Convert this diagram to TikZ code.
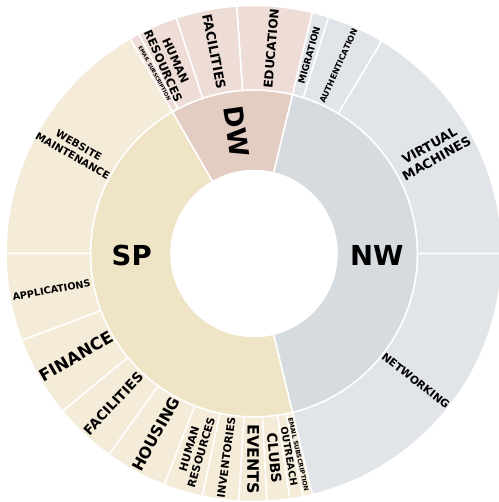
\documentclass[tikz,border=0pt]{standalone}
\usepackage{fontspec}
\setmainfont{DejaVu Sans}
\definecolor{dwinner}{RGB}{227,204,194}
\definecolor{dwouter}{RGB}{238,221,215}
\definecolor{nwinner}{RGB}{214,219,224}
\definecolor{nwouter}{RGB}{225,228,232}
\definecolor{spinner}{RGB}{240,228,199}
\definecolor{spouter}{RGB}{245,235,217}
\tikzset{
  slice/.style={draw=white, line width=1.5pt},
  lbl/.style={inner sep=0pt, align=center, text=black},
}
% ring radii: hole 83pt, middle 163.5pt, outer 248pt
\newcommand{\innerpart}[3]{\filldraw[slice, fill=#1] (#2:83pt) arc[start angle=#2, end angle=#3, radius=83pt] -- (#3:163.5pt) arc[start angle=#3, end angle=#2, radius=163.5pt] -- cycle;}
\newcommand{\outerpart}[3]{\filldraw[slice, fill=#1] (#2:163.5pt) arc[start angle=#2, end angle=#3, radius=163.5pt] -- (#3:248pt) arc[start angle=#3, end angle=#2, radius=248pt] -- cycle;}

\begin{document}
\begin{tikzpicture}[font=\bfseries]
  \fill[white] (-254pt,-248.5pt) rectangle (244pt,253.5pt);
  \useasboundingbox (-254pt,-248.5pt) rectangle (244pt,253.5pt);

  % inner ring
  \innerpart{nwinner}{-76.4}{76.4}
  \innerpart{dwinner}{76.4}{120}
  \innerpart{spinner}{120}{283.6}

  % outer ring, NW
  \outerpart{nwouter}{-76.4}{0}
  \outerpart{nwouter}{0}{59}
  \outerpart{nwouter}{59}{72.5}
  \outerpart{nwouter}{72.5}{76.4}
  % outer ring, DW
  \outerpart{dwouter}{76.4}{94}
  \outerpart{dwouter}{94}{108.3}
  \outerpart{dwouter}{108.3}{117.7}
  \outerpart{dwouter}{117.7}{120}
  % outer ring, SP
  \outerpart{spouter}{120}{180}
  \outerpart{spouter}{180}{200.5}
  \outerpart{spouter}{200.5}{219.5}
  \outerpart{spouter}{219.5}{234.2}
  \outerpart{spouter}{234.2}{248.8}
  \outerpart{spouter}{248.8}{258}
  \outerpart{spouter}{258}{266.5}
  \outerpart{spouter}{266.5}{273}
  \outerpart{spouter}{273}{278.3}
  \outerpart{spouter}{278.3}{281.4}
  \outerpart{spouter}{281.4}{283.6}

  % inner labels
  \node[lbl, font=\fontsize{27.5}{30}\bfseries\selectfont] (nw) at (122.7pt,-1.5pt) {NW};
  \node[lbl, font=\fontsize{27.5}{30}\bfseries\selectfont] (sp) at (-122.3pt,-1.5pt) {SP};
  \node[lbl, font=\fontsize{26.5}{30}\bfseries\selectfont, rotate=-81.8] (dw) at (98.2:123pt) {DW};

  % NW labels
  \node[lbl, font=\fontsize{10.7}{12.5}\bfseries\selectfont, rotate=-38.2] (networking) at (-38.2:205.75pt) {NETWORKING};
  \node[lbl, font=\fontsize{12.8}{14.5}\bfseries\selectfont, rotate=29.5] (virtual) at (29.5:205.75pt) {VIRTUAL\\MACHINES};
  \node[lbl, font=\fontsize{8.2}{10}\bfseries\selectfont, rotate=65.75] (auth) at (65.75:205.75pt) {AUTHENTICATION};
  \node[lbl, font=\fontsize{9.3}{11}\bfseries\selectfont, rotate=74.45] (migration) at (74.45:205.75pt) {MIGRATION};

  % DW labels
  \node[lbl, font=\fontsize{12.2}{14}\bfseries\selectfont, rotate=85.2] (education) at (85.2:205.75pt) {EDUCATION};
  \node[lbl, font=\fontsize{12.9}{14.5}\bfseries\selectfont, rotate=-78.85] (dwfac) at (101.15:205.75pt) {FACILITIES};
  \node[lbl, font=\fontsize{11.5}{13.5}\bfseries\selectfont, rotate=-66] (dwhr) at (114:208pt) {HUMAN\\RESOURCES};
  \node[lbl, font=\fontsize{5}{6}\bfseries\selectfont, rotate=-61.15] (dwemail) at (118.85:205.75pt) {EMAIL SUBSCRIPTION};

  % SP labels
  \node[lbl, font=\fontsize{10.2}{12}\bfseries\selectfont, rotate=-30] (website) at (150:205.75pt) {WEBSITE\\MAINTENANCE};
  \node[lbl, font=\fontsize{9.7}{11}\bfseries\selectfont, rotate=10.25] (apps) at (190.25:205.75pt) {APPLICATIONS};
  \node[lbl, font=\fontsize{16.7}{18}\bfseries\selectfont, rotate=30] (finance) at (210:205.75pt) {FINANCE};
  \node[lbl, font=\fontsize{13.5}{15}\bfseries\selectfont, rotate=46.85] (spfac) at (226.85:205.75pt) {FACILITIES};
  \node[lbl, font=\fontsize{15.6}{17}\bfseries\selectfont, rotate=61.5] (housing) at (241.5:205.75pt) {HOUSING};
  \node[lbl, font=\fontsize{10.8}{12.5}\bfseries\selectfont, rotate=73.4] (sphr) at (253.4:205.75pt) {HUMAN\\RESOURCES};
  \node[lbl, font=\fontsize{10.7}{12}\bfseries\selectfont, rotate=82.25] (inventories) at (262.25:205.75pt) {INVENTORIES};
  \node[lbl, font=\fontsize{15.8}{17}\bfseries\selectfont, rotate=-90.25] (events) at (269.75:205.75pt) {EVENTS};
  \node[lbl, font=\fontsize{13.7}{15}\bfseries\selectfont, rotate=-84.35] (clubs) at (275.65:205.75pt) {CLUBS};
  \node[lbl, font=\fontsize{9.7}{11}\bfseries\selectfont, rotate=-80.15] (outreach) at (279.85:205.75pt) {OUTREACH};
  \node[lbl, font=\fontsize{6.2}{7}\bfseries\selectfont, rotate=-77.5] (spemail) at (282.5:205.75pt) {EMAIL SUBSCRIPTION};
\end{tikzpicture}
\end{document}
